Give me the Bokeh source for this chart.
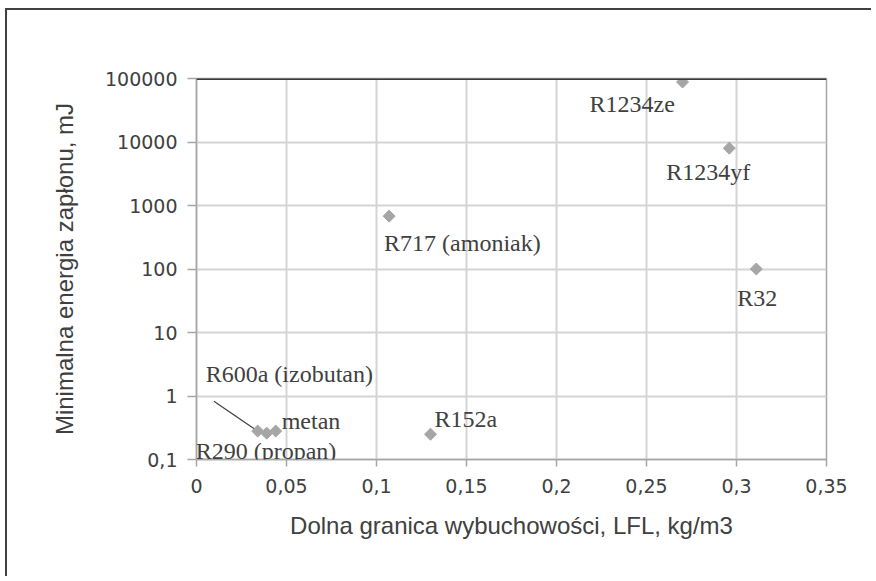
import math
from bokeh.plotting import figure
from bokeh.models import FixedTicker, CustomJSTickFormatter, Span, ColumnDataSource, Label
from bokeh.embed import file_html
from bokeh.resources import INLINE

# ---- data ----
names = ["R1234ze", "R1234yf", "R32", "R717 (amoniak)", "R152a", "metan", "R600a (izobutan)", "R290 (propan)"]
lfl = [0.270, 0.296, 0.311, 0.107, 0.130, 0.044, 0.034, 0.039]
mie = [88000, 8000, 100, 680, 0.25, 0.28, 0.28, 0.26]
x_ticks = [0, 0.05, 0.1, 0.15, 0.2, 0.25, 0.3, 0.35]
y_ticks = [0.1, 1, 10, 100, 1000, 10000, 100000]

# label placement (screen pixel offsets from each point; y up-positive)
label_dx = [-93, -63, -19, -5, 4, 6, -52, -71]
label_dy = [-22, -24, -29, -27, 15, 10, 57, -18]

W, H = 866, 568
BL, BT, BR, BB = 189, 68, 47, 119
p = figure(width=W, height=H, y_axis_type="log",
           x_range=(x_ticks[0], x_ticks[-1]), y_range=(y_ticks[0], y_ticks[-1]),
           output_backend="svg", toolbar_location=None,
           min_border_left=BL, min_border_top=BT, min_border_right=BR, min_border_bottom=BB)
p.styles = {"border-left": "2px solid #404040", "border-top": "2px solid #404040",
            "margin-left": "5px", "margin-top": "8px"}
p.background_fill_color = "white"
p.border_fill_color = "white"
p.outline_line_color = "#a6a6a6"
p.outline_line_width = 1.5

fmt = CustomJSTickFormatter(code="""
const v = Math.round(tick*1000)/1000;
return v.toString().replace('.', ',');
""")

p.xaxis.ticker = FixedTicker(ticks=x_ticks, minor_ticks=[])
p.yaxis.ticker = FixedTicker(ticks=y_ticks, minor_ticks=[])
p.xaxis.formatter = fmt
p.yaxis.formatter = fmt

for ax in (p.xaxis, p.yaxis):
    ax.axis_line_color = "#a6a6a6"
    ax.axis_line_width = 1.5
    ax.major_tick_line_color = "#a6a6a6"
    ax.major_tick_line_width = 1.5
    ax.major_tick_in = 0
    ax.minor_tick_line_color = None
    ax.major_label_text_font = "DejaVu Sans"
    ax.major_label_text_font_size = "19px"
    ax.major_label_text_color = "#404040"
    ax.axis_label_text_font = "Liberation Sans"
    ax.axis_label_text_font_style = "normal"
    ax.axis_label_text_color = "#404040"
    ax.axis_label_text_font_size = "24px"

p.xaxis.major_tick_out = 7
p.yaxis.major_tick_out = 9
p.xaxis.major_label_standoff = 12
p.yaxis.major_label_standoff = 10
p.xaxis.axis_label = "Dolna granica wybuchowości, LFL, kg/m3"
p.yaxis.axis_label = "Minimalna energia zapłonu, mJ"
p.xaxis.axis_label_standoff = 16
p.yaxis.axis_label_standoff = 24

p.xgrid.ticker = FixedTicker(ticks=x_ticks)
p.ygrid.ticker = FixedTicker(ticks=y_ticks)
for g in (p.xgrid, p.ygrid):
    g.grid_line_color = "#d4d4d4"
    g.grid_line_width = 2
p.ygrid.minor_grid_line_color = None

# dark top line
p.add_layout(Span(location=y_ticks[-1], dimension="width", line_color="#3a3a3a", line_width=3))

src = ColumnDataSource(dict(x=lfl, y=mie, name=names))

# leader line for R600a
i600 = names.index("R600a (izobutan)")
p.ray(x=[lfl[i600]], y=[mie[i600]], length=53, length_units="screen",
      angle=math.radians(145.7), line_color="#404040", line_width=1.2)

p.scatter("x", "y", source=src, marker="square", size=8.5, angle=math.pi / 4,
          fill_color="#a6a6a6", line_color="#a6a6a6")

for nm, xv, yv, dx, dy in zip(names, lfl, mie, label_dx, label_dy):
    p.add_layout(Label(x=xv, y=yv, text=nm, x_offset=dx, y_offset=dy,
                       text_font="Liberation Serif", text_font_size="24px",
                       text_color="#404040", text_align="left", text_baseline="middle"))

open("out.html", "w").write(file_html(p, INLINE))
